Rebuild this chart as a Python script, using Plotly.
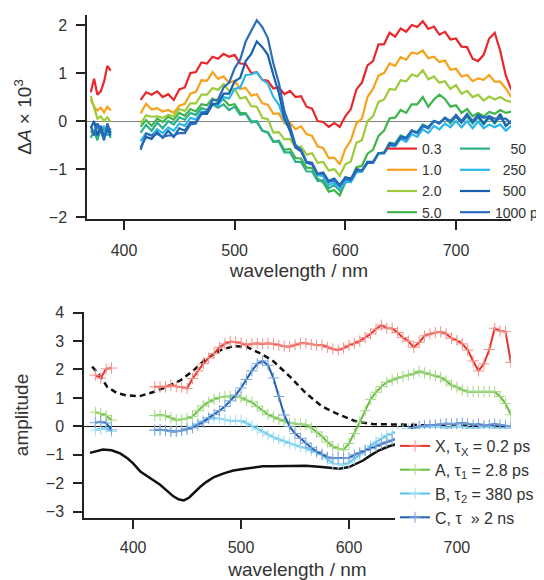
import plotly.graph_objects as go

# ---------- top panel: transient absorption spectra ----------
wl_top_a = [370, 373, 376, 379, 382, 385, 388]
wl_top_b = list(range(415, 755, 5))

delay_labels = ["0.3", "1.0", "2.0", "5.0",
                "\u2007\u200750", "\u2007250", "\u2007500", "1000 ps"]
delay_colors = ["#e8282b", "#f7a21b", "#9dcb3b", "#3fb44a",
                "#2bb08a", "#2bb7ec", "#1660ad", "#2b6bbb"]

spec_a = [
    [0.6, 0.88, 0.55, 0.62, 0.82, 1.15, 1.05],
    [0.45, 0.3, 0.22, 0.28, 0.18, 0.3, 0.22],
    [0.52, 0.3, 0.05, 0.1, 0.0, 0.08, -0.02],
    [-0.2, -0.3, -0.1, -0.25, -0.15, -0.3, -0.2],
    [-0.35, -0.2, -0.4, -0.15, -0.3, -0.2, -0.35],
    [-0.1, -0.25, -0.05, -0.2, -0.1, -0.3, -0.15],
    [-0.15, 0.0, -0.3, -0.1, -0.35, -0.15, -0.3],
    [-0.1, -0.3, -0.05, -0.2, -0.4, -0.05, -0.25],
]

spec_b = [
    # 0.3 ps
    [0.44, 0.6, 0.55, 0.62, 0.5, 0.56, 0.44, 0.66, 0.7, 1.0, 1.02, 1.22, 1.2, 1.34,
     1.3, 1.4, 1.34, 1.38, 1.2, 1.19, 1.0, 1.02, 0.86, 0.84, 0.68, 0.7, 0.56, 0.63,
     0.5, 0.52, 0.3, 0.26, 0.0, -0.02, -0.12, -0.04, -0.12, 0.1, 0.25, 0.66, 0.8,
     1.16, 1.25, 1.6, 1.6, 1.84, 1.76, 1.93, 1.86, 2.0, 1.96, 2.08, 1.92, 1.97, 1.8,
     1.86, 1.7, 1.72, 1.55, 1.54, 1.3, 1.25, 1.38, 1.72, 1.84, 1.46, 0.95, 0.65],
    # 1.0
    [0.16, 0.36, 0.24, 0.27, 0.2, 0.23, 0.17, 0.32, 0.36, 0.57, 0.61, 0.85, 0.84, 1.02,
     0.88, 0.93, 0.8, 0.84, 0.67, 0.69, 0.53, 0.56, 0.37, 0.34, 0.15, 0.16, -0.05,
     -0.04, -0.17, -0.11, -0.27, -0.31, -0.53, -0.56, -0.77, -0.76, -0.9, -0.58, -0.4,
     -0.05, 0.05, 0.5, 0.67, 0.95, 1.0, 1.2, 1.15, 1.33, 1.28, 1.43, 1.4, 1.47, 1.31,
     1.34, 1.23, 1.26, 1.07, 1.09, 0.93, 0.96, 0.83, 0.89, 0.86, 0.96, 0.82, 0.82, 0.68, 0.5],
    # 2.0
    [-0.05, 0.12, 0.09, 0.1, 0.07, 0.13, 0.1, 0.25, 0.21, 0.37, 0.37, 0.55, 0.55, 0.69,
     0.65, 0.77, 0.63, 0.67, 0.47, 0.5, 0.31, 0.3, 0.07, 0.04, -0.24, -0.23, -0.38,
     -0.37, -0.55, -0.53, -0.7, -0.67, -0.87, -0.85, -1.03, -1.0, -1.14, -0.9, -0.84,
     -0.45, -0.4, 0.0, 0.1, 0.4, 0.45, 0.67, 0.65, 0.85, 0.83, 0.97, 0.93, 1.06, 0.87,
     0.93, 0.8, 0.83, 0.67, 0.75, 0.57, 0.63, 0.5, 0.55, 0.43, 0.51, 0.45, 0.5, 0.43, 0.4],
    # 5.0
    [-0.12, 0.02, -0.1, 0.05, -0.02, 0.09, 0.03, 0.17, 0.11, 0.25, 0.2, 0.35, 0.33,
     0.47, 0.4, 0.45, 0.33, 0.35, 0.17, 0.16, 0.0, -0.01, -0.2, -0.24, -0.43, -0.41,
     -0.6, -0.58, -0.77, -0.78, -0.97, -0.98, -1.2, -1.28, -1.47, -1.44, -1.55, -1.28,
     -1.25, -0.96, -0.93, -0.68, -0.6, -0.31, -0.2, 0.06, 0.07, 0.23, 0.17, 0.35, 0.35,
     0.5, 0.3, 0.45, 0.55, 0.46, 0.3, 0.33, 0.17, 0.25, 0.1, 0.17, 0.1, 0.19, 0.15,
     0.23, 0.17, 0.2],
    # 50
    [-0.24, -0.08, -0.2, -0.03, -0.15, 0.0, -0.07, 0.08, 0.03, 0.17, 0.13, 0.27, 0.23,
     0.35, 0.28, 0.35, 0.23, 0.3, 0.13, 0.15, -0.03, 0.0, -0.2, -0.23, -0.43, -0.43,
     -0.65, -0.65, -0.85, -0.85, -1.05, -1.05, -1.25, -1.23, -1.4, -1.33, -1.45, -1.25,
     -1.27, -1.05, -1.05, -0.87, -0.87, -0.67, -0.65, -0.45, -0.47, -0.3, -0.35, -0.2,
     -0.23, -0.07, -0.13, 0.0, -0.05, 0.07, -0.05, 0.1, -0.03, 0.1, -0.05, 0.08, -0.07,
     0.07, -0.05, 0.1, -0.1, 0.0],
    # 250
    [-0.42, -0.25, -0.3, -0.17, -0.25, -0.13, -0.2, -0.05, -0.1, 0.07, 0.03, 0.2, 0.17,
     0.35, 0.33, 0.5, 0.47, 0.67, 0.7, 0.96, 0.97, 1.02, 0.86, 0.78, 0.5, 0.34, 0.0,
     -0.16, -0.5, -0.6, -0.85, -0.9, -1.13, -1.15, -1.33, -1.28, -1.42, -1.26, -1.27,
     -1.07, -1.05, -0.87, -0.87, -0.67, -0.67, -0.5, -0.53, -0.37, -0.43, -0.27, -0.33,
     -0.17, -0.25, -0.1, -0.17, -0.05, -0.13, 0.0, -0.13, 0.0, -0.15, -0.01, -0.15,
     -0.07, -0.13, -0.07, -0.2, -0.1],
    # 500
    [-0.55, -0.33, -0.37, -0.23, -0.35, -0.2, -0.33, -0.15, -0.2, -0.03, -0.03, 0.15,
     0.15, 0.35, 0.37, 0.57, 0.57, 0.83, 0.9, 1.25, 1.4, 1.66, 1.54, 1.38, 0.96, 0.58,
     0.06, -0.21, -0.55, -0.63, -0.87, -0.9, -1.1, -1.07, -1.25, -1.2, -1.33, -1.17,
     -1.2, -1.0, -1.03, -0.85, -0.85, -0.67, -0.67, -0.47, -0.5, -0.33, -0.35, -0.2,
     -0.25, -0.1, -0.15, 0.0, -0.05, 0.07, 0.0, 0.1, -0.03, 0.13, -0.02, 0.11, -0.05,
     0.1, -0.03, 0.15, -0.1, 0.0],
    # 1000 ps
    [-0.6, -0.26, -0.3, -0.27, -0.33, -0.3, -0.3, -0.25, -0.25, -0.07, -0.05, 0.17, 0.2,
     0.43, 0.45, 0.7, 0.8, 1.1, 1.28, 1.66, 1.88, 2.1, 1.96, 1.73, 1.2, 0.79, 0.2,
     -0.11, -0.5, -0.6, -0.85, -0.87, -1.1, -1.1, -1.27, -1.23, -1.35, -1.2, -1.23,
     -1.03, -1.03, -0.87, -0.87, -0.67, -0.67, -0.5, -0.5, -0.35, -0.37, -0.2, -0.25,
     -0.1, -0.13, 0.0, -0.03, 0.05, 0.0, 0.13, 0.0, 0.15, 0.0, 0.13, 0.07, 0.1, 0.05,
     0.05, 0.05, -0.05],
]

# ---------- bottom panel: global fit amplitudes ----------
wl_bot_a = [365, 370, 375, 380]
wl_bot_b = list(range(420, 755, 5))

comp_labels = ["X, \u03c4<sub>X</sub> = 0.2 ps", "A, \u03c4<sub>1</sub> = 2.8 ps",
               "B, \u03c4<sub>2</sub> = 380 ps", "C, \u03c4  \u00bb 2 ns"]
comp_colors = ["#e8322b", "#69bd45", "#52c3ea", "#1f5fb4"]
comp_marker_colors = ["#f29088", "#a3d885", "#a0def4", "#7aa3dc"]

comp_a = [
    [1.8, 1.7, 2.02, 2.05],
    [0.5, 0.45, 0.38, 0.22],
    [-0.13, -0.1, -0.05, -0.18],
    [0.13, 0.17, 0.12, -0.12],
]

comp_b = [
    # X
    [1.39, 1.38, 1.39, 1.45, 1.4, 1.38, 1.33, 1.68, 1.95, 2.2, 2.4, 2.56, 2.78, 2.9,
     2.98, 2.97, 2.92, 2.86, 2.9, 2.92, 2.9, 2.92, 2.9, 2.85, 2.82, 2.8, 2.86, 2.92,
     2.92, 2.88, 2.85, 2.86, 2.78, 2.72, 2.68, 2.75, 2.85, 2.92, 3.0, 3.12, 3.25, 3.42,
     3.56, 3.45, 3.44, 3.3, 3.12, 3.0, 2.78, 2.95, 3.18, 3.25, 3.3, 3.32, 3.25, 3.1,
     3.02, 2.9, 2.68, 2.3, 1.95, 2.2, 2.7, 3.45, 3.35, 3.33, 2.25],
    # A
    [0.38, 0.4, 0.38, 0.3, 0.22, 0.25, 0.28, 0.35, 0.55, 0.72, 0.85, 0.95, 1.02, 1.05,
     1.05, 1.04, 1.02, 0.92, 0.85, 0.7, 0.55, 0.42, 0.33, 0.25, 0.18, 0.12, 0.1, 0.08,
     0.06, -0.05, -0.2, -0.35, -0.55, -0.7, -0.78, -0.82, -0.6, -0.25, 0.15, 0.55, 0.95,
     1.2, 1.4, 1.55, 1.63, 1.7, 1.75, 1.8, 1.85, 1.94, 1.88, 1.82, 1.78, 1.72, 1.6,
     1.45, 1.38, 1.28, 1.22, 1.22, 1.23, 1.22, 1.23, 1.22, 1.05, 0.8, 0.41],
    # B
    [-0.13, -0.12, -0.14, -0.15, -0.18, -0.15, -0.08, 0.0, 0.1, 0.2, 0.26, 0.29, 0.28,
     0.24, 0.2, 0.2, 0.2, 0.12, 0.02, -0.1, -0.2, -0.3, -0.38, -0.45, -0.52, -0.6,
     -0.65, -0.72, -0.76, -0.85, -0.92, -1.0, -1.15, -1.3, -1.33, -1.35, -1.28, -1.15,
     -1.0, -0.85, -0.68, -0.55, -0.42, -0.32, -0.25, -0.18, -0.12, -0.08, -0.05, -0.03,
     -0.02, 0.0, 0.0, -0.02, -0.05, -0.03, 0.0, -0.02, -0.05, -0.08, -0.05, 0.0, -0.02,
     -0.05, -0.08, -0.06, -0.05],
    # C
    [-0.13, -0.12, -0.14, -0.18, -0.18, -0.15, -0.1, -0.05, 0.05, 0.15, 0.3, 0.42, 0.55,
     0.7, 0.9, 1.1, 1.35, 1.65, 1.95, 2.2, 2.3, 2.15, 1.7, 1.05, 0.4, 0.0, -0.25, -0.42,
     -0.59, -0.75, -0.88, -0.98, -1.08, -1.12, -1.12, -1.12, -1.1, -1.0, -0.93, -0.85,
     -0.78, -0.7, -0.62, -0.55, -0.48, -0.42, -0.3, -0.15, -0.05, 0.0, 0.02, 0.05, 0.05,
     0.08, 0.1, 0.08, 0.1, 0.12, 0.1, 0.05, 0.08, 0.02, 0.05, 0.08, 0.05, 0.03, 0.0],
]

# black solid reference spectrum
wl_ref = [360, 365, 372, 380, 388, 395, 400, 407, 413, 419, 425, 431, 437, 442, 447,
          452, 457, 462, 468, 475, 484, 493, 502, 512, 520, 529, 545, 560, 575, 585,
          591, 600, 607, 613, 620, 628, 637, 647, 660, 675, 690, 700, 720, 740, 750]
amp_ref = [-0.93, -0.88, -0.81, -0.84, -0.95, -1.13, -1.3, -1.6, -1.75, -1.9, -2.05,
           -2.25, -2.45, -2.56, -2.6, -2.5, -2.3, -2.13, -1.95, -1.78, -1.65, -1.55,
           -1.5, -1.43, -1.4, -1.4, -1.39, -1.38, -1.43, -1.47, -1.49, -1.43, -1.32,
           -1.2, -1.02, -0.84, -0.7, -0.59, -0.45, -0.32, -0.24, -0.22, -0.21, -0.21, -0.21]

# black dashed reference spectrum
wl_dash = [362, 369, 376, 385, 394, 406, 419, 431, 444, 456, 468, 481, 493, 505, 518,
           529, 545, 560, 575, 591, 606, 622, 653, 684, 715, 750]
amp_dash = [2.1, 1.8, 1.39, 1.17, 1.09, 1.06, 1.21, 1.39, 1.62, 1.97, 2.38, 2.68, 2.82,
            2.8, 2.56, 2.32, 1.76, 1.17, 0.7, 0.41, 0.18, 0.08, 0.06, 0.02, 0.02, 0.0]

FONT = "Arial, Liberation Sans, sans-serif"
TXT = "#333333"
AX = "#222222"

# the page body has an 8px margin, so the figure is made 8px smaller
OFF = 8
W, H = 544 - OFF, 580 - OFF


def px_x(p):
    return (p - OFF) / W


def px_y(p):
    return 1 - (p - OFF) / H


fig = go.Figure()

for i in range(len(delay_labels)):
    fig.add_trace(go.Scatter(
        x=wl_top_a + [400] + wl_top_b,
        y=spec_a[i] + [None] + spec_b[i],
        mode="lines", line=dict(color=delay_colors[i], width=2.2),
        name=delay_labels[i],
        legend="legend" if i < 4 else "legend2",
        xaxis="x", yaxis="y",
    ))

fig.add_trace(go.Scatter(
    x=wl_ref, y=amp_ref, mode="lines", line=dict(color="#111111", width=2.5),
    showlegend=False, xaxis="x2", yaxis="y2"))
fig.add_trace(go.Scatter(
    x=wl_dash, y=amp_dash, mode="lines",
    line=dict(color="#111111", width=2.5, dash="6px,4px"),
    showlegend=False, xaxis="x2", yaxis="y2"))

for i in range(len(comp_labels)):
    fig.add_trace(go.Scatter(
        x=wl_bot_a + [400] + wl_bot_b,
        y=comp_a[i] + [None] + comp_b[i],
        mode="lines+markers",
        line=dict(color=comp_colors[i], width=2),
        marker=dict(symbol="cross-thin", size=8,
                    line=dict(color=comp_marker_colors[i], width=1)),
        name=comp_labels[i], legend="legend3",
        xaxis="x2", yaxis="y2",
    ))

axis_common = dict(
    showline=True, linecolor=AX, linewidth=1.5, mirror=False, automargin=False,
    ticks="outside", ticklen=9, tickwidth=1.5, tickcolor=AX,
    showgrid=False, tickfont=dict(size=16, color=TXT, family=FONT),
)

fig.update_layout(
    width=W, height=H,
    margin=dict(l=0, r=0, t=0, b=0, autoexpand=False),
    paper_bgcolor="white", plot_bgcolor="white",
    font=dict(family=FONT, color=TXT),
    xaxis=dict(axis_common, domain=[px_x(87), px_x(511)], range=[366.6, 749.7],
               tickvals=[400, 500, 600, 700], zeroline=False,
               title=dict(text="wavelength / nm", font=dict(size=19, color=TXT), standoff=6),
               anchor="y", ticklabelstandoff=7),
    yaxis=dict(axis_common, domain=[px_y(219), px_y(15)], range=[-2.04, 2.21],
               tickvals=[-2, -1, 0, 1, 2], zeroline=True, zerolinecolor="#808080",
               zerolinewidth=1,
               title=dict(text="\u0394<i>A</i> \u00d7 10<sup>3</sup>",
                          font=dict(size=19, color=TXT), standoff=12),
               anchor="x", ticklabelstandoff=6),
    xaxis2=dict(axis_common, domain=[px_x(84), px_x(511)], range=[354.5, 750.1],
                tickvals=[400, 500, 600, 700], zeroline=False,
                title=dict(text="wavelength / nm", font=dict(size=19, color=TXT), standoff=10),
                anchor="y2", ticklabelstandoff=5),
    yaxis2=dict(axis_common, domain=[px_y(518), px_y(312)], range=[-3.22, 4.02],
                tickvals=[-3, -2, -1, 0, 1, 2, 3, 4], zeroline=True,
                zerolinecolor="#111111", zerolinewidth=1,
                title=dict(text="amplitude", font=dict(size=19, color=TXT), standoff=12),
                anchor="x2", ticklabelstandoff=6),
    legend=dict(x=px_x(382), y=px_y(133), xanchor="left", yanchor="top",
                bgcolor="rgba(0,0,0,0)", font=dict(size=14, color=TXT, family=FONT),
                borderwidth=0),
    legend2=dict(x=px_x(455), y=px_y(133), xanchor="left", yanchor="top",
                 bgcolor="rgba(0,0,0,0)", font=dict(size=14, color=TXT, family=FONT),
                 borderwidth=0),
    legend3=dict(x=px_x(395), y=px_y(429), xanchor="left", yanchor="top",
                 bgcolor="white", font=dict(size=16, color=TXT, family=FONT),
                 borderwidth=0),
)

fig.write_html("out.html")
